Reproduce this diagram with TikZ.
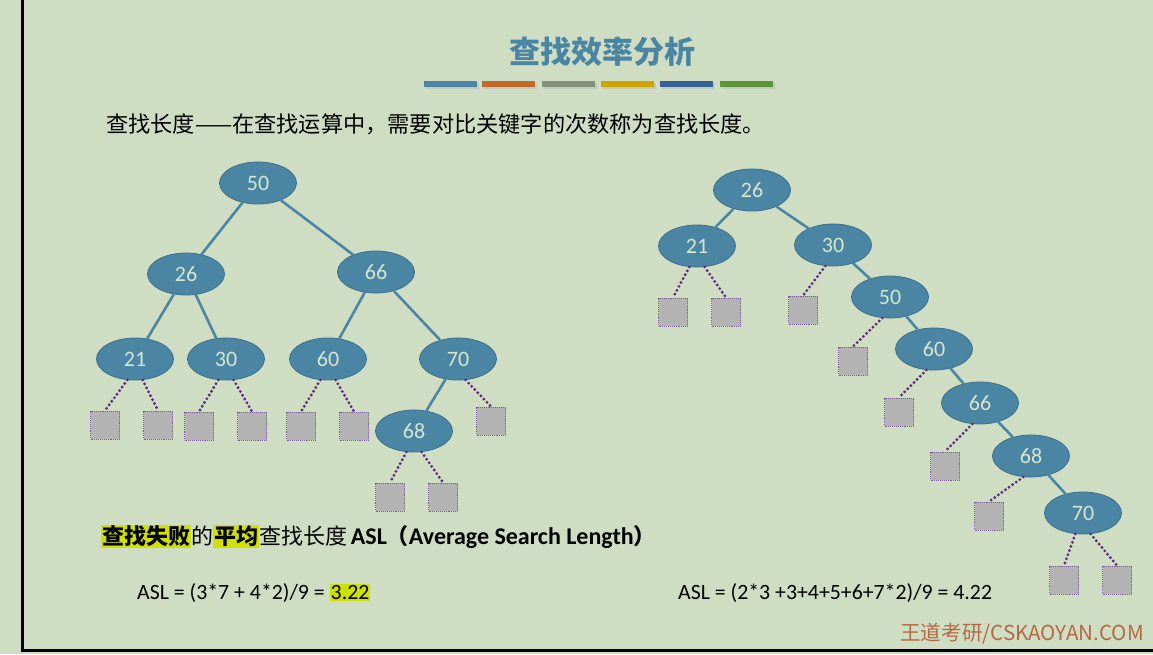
\documentclass[tikz,border=0pt]{standalone}
\usepackage{fontspec}
\setmainfont{Carlito}
\newfontfamily\cjk{Noto Sans CJK SC}
\usetikzlibrary{shapes.geometric}
\definecolor{bg}{HTML}{CFDEC2}
\definecolor{nodeblue}{HTML}{4A86A4}
\definecolor{nodeedge}{HTML}{3B6F8C}
\definecolor{numcol}{HTML}{D6E6CC}
\definecolor{dotcol}{HTML}{5B2C82}
\definecolor{leafcol}{HTML}{B3B3B3}
\definecolor{leafedge}{HTML}{7A5C9A}
\definecolor{hl}{HTML}{D0E000}
\definecolor{barA}{HTML}{4A86A4}
\definecolor{barB}{HTML}{C0682A}
\definecolor{barC}{HTML}{858F7C}
\definecolor{barD}{HTML}{D0A400}
\definecolor{barE}{HTML}{386096}
\definecolor{barF}{HTML}{5A9538}
\definecolor{wm}{HTML}{B0542E}
\tikzset{
  tn/.style={ellipse, fill=nodeblue, draw=nodeedge, line width=0.8pt, minimum width=77pt, minimum height=42pt, inner sep=0pt, text=numcol, font=\fontsize{22}{24}\selectfont},
  leaf/.style={rectangle, fill=leafcol, draw=leafedge, line width=0.9pt, densely dotted, minimum width=29pt, minimum height=28pt, inner sep=0pt},
  solid edge/.style={draw=nodeblue, line width=2.6pt},
  dot edge/.style={draw=dotcol, line width=3.2pt, line cap=round, dash pattern=on 0pt off 4.4pt},
  bar/.style={minimum width=53pt, minimum height=6pt, inner sep=0pt, draw=none},
}
\begin{document}
\begin{tikzpicture}[x=1pt,y=-1pt]
\fill[bg] (0,0) rectangle (1153,654);
\useasboundingbox (0,0) rectangle (1153,654);
\coordinate (ftop) at (22.5,0);
\coordinate (fcorner) at (22.5,650.5);
\coordinate (fright) at (1153,650.5);
\draw[line width=2.2pt, black, line cap=rect] (ftop) -- (fcorner) -- (fright);

% title
\node[text=nodeblue, font=\cjk\bfseries\fontsize{31}{34}\selectfont] (title) at (602,52) {查找效率分析};
\foreach \c/\x [count=\i] in {barA/450.5, barB/508.5, barC/568.5, barD/627.5, barE/686.5, barF/746.5}{
  \node[bar, fill=black!35, opacity=0.35] (bs\i) at (\x+1.5,86) {};
  \node[bar, fill=\c] (bar\i) at (\x,84) {};
}

\node[anchor=west, inner sep=0pt, font=\cjk\fontsize{22.2}{24}\selectfont] (def) at (106,124) {查找长度——在查找运算中，需要对比关键字的次数称为查找长度。};

% left tree
\node[tn] (L50) at (258,183) {50};
\node[tn] (L26) at (186,274) {26};
\node[tn] (L66) at (376,272) {66};
\node[tn] (L21) at (135,359) {21};
\node[tn] (L30) at (226,359) {30};
\node[tn] (L60) at (328,359) {60};
\node[tn] (L70) at (458,359) {70};
\node[tn] (L68) at (414,431) {68};
\draw[solid edge] (L50) -- (L26);
\draw[solid edge] (L50) -- (L66);
\draw[solid edge] (L26) -- (L21);
\draw[solid edge] (L26) -- (L30);
\draw[solid edge] (L66) -- (L60);
\draw[solid edge] (L66) -- (L70);
\draw[solid edge] (L70) -- (L68);
\node[leaf] (la1) at (105,425) {};
\node[leaf] (la2) at (158,425) {};
\node[leaf] (la3) at (199,426) {};
\node[leaf] (la4) at (252,426) {};
\node[leaf] (la5) at (301,426) {};
\node[leaf] (la6) at (354,426) {};
\node[leaf] (la7) at (491,421) {};
\node[leaf] (la8) at (390,497) {};
\node[leaf] (la9) at (443,497) {};
\draw[dot edge] (L21.250) -- (la1.north);
\draw[dot edge] (L21.290) -- (la2.north);
\draw[dot edge] (L30.250) -- (la3.north);
\draw[dot edge] (L30.290) -- (la4.north);
\draw[dot edge] (L60.250) -- (la5.north);
\draw[dot edge] (L60.290) -- (la6.north);
\draw[dot edge] (L70.290) -- (la7.north);
\draw[dot edge] (L68.250) -- (la8.north);
\draw[dot edge] (L68.290) -- (la9.north);

% right tree
\node[tn] (R26) at (752,190) {26};
\node[tn] (R21) at (697,246) {21};
\node[tn] (R30) at (833,245) {30};
\node[tn] (R50) at (890,297) {50};
\node[tn] (R60) at (934,349) {60};
\node[tn] (R66) at (980,403) {66};
\node[tn] (R68) at (1031,456) {68};
\node[tn] (R70) at (1083,513) {70};
\draw[solid edge] (R26) -- (R21);
\draw[solid edge] (R26) -- (R30);
\draw[solid edge] (R30) -- (R50);
\draw[solid edge] (R50) -- (R60);
\draw[solid edge] (R60) -- (R66);
\draw[solid edge] (R66) -- (R68);
\draw[solid edge] (R68) -- (R70);
\node[leaf] (ra1) at (673,312) {};
\node[leaf] (ra2) at (726,312) {};
\node[leaf] (ra3) at (803,310) {};
\node[leaf] (ra4) at (853,361) {};
\node[leaf] (ra5) at (899,412) {};
\node[leaf] (ra6) at (945,466) {};
\node[leaf] (ra7) at (989,516) {};
\node[leaf] (ra8) at (1064,580) {};
\node[leaf] (ra9) at (1117,580) {};
\draw[dot edge] (R21.250) -- (ra1.north);
\draw[dot edge] (R21.290) -- (ra2.north);
\draw[dot edge] (R30.250) -- (ra3.north);
\draw[dot edge] (R50.250) -- (ra4.north);
\draw[dot edge] (R60.250) -- (ra5.north);
\draw[dot edge] (R66.250) -- (ra6.north);
\draw[dot edge] (R68.250) -- (ra7.north);
\draw[dot edge] (R70.250) -- (ra8.north);
\draw[dot edge] (R70.290) -- (ra9.north);

% bottom texts
\setlength{\fboxsep}{1pt}
\node[anchor=west, inner sep=0pt, font=\fontsize{22}{24}\selectfont] (asltitle) at (101,537)
  {\cjk\colorbox{hl}{\textbf{查找失败}}的\colorbox{hl}{\textbf{平均}}查找长度\,\normalfont\fontsize{24}{26}\selectfont\bfseries ASL{\cjk\fontsize{22}{24}\selectfont（}Average Search Length{\cjk\fontsize{22}{24}\selectfont）}};
\node[anchor=west, inner sep=0pt, font=\fontsize{21.8}{24}\selectfont] (asl1) at (137,593)
  {ASL = (3*7 + 4*2)/9 = \colorbox{hl}{3.22}};
\node[anchor=west, inner sep=0pt, font=\fontsize{21.8}{24}\selectfont] (asl2) at (678,593)
  {ASL = (2*3 +3+4+5+6+7*2)/9 = 4.22};

\node[anchor=west, inner sep=0pt, text=wm, opacity=0.85, font=\cjk\fontsize{20.6}{22}\selectfont] (wmark) at (900,634) {王道考研/CSKAOYAN.COM};
\end{tikzpicture}
\end{document}
